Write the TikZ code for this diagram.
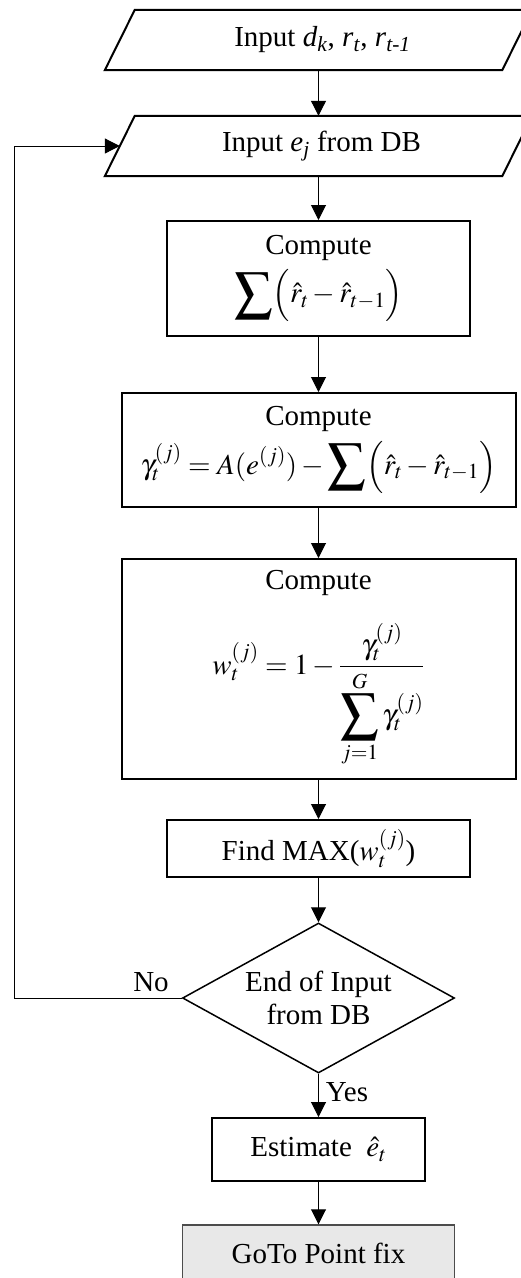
\documentclass[tikz,border=0pt]{standalone}
\usepackage{amsmath}
\usepackage{mathptmx}
\usepackage{graphicx}
\usepackage[no-math]{fontspec}
\setmainfont{Liberation Serif}
\usepackage{tikz}
\usetikzlibrary{shapes.geometric,arrows.meta}

\newcommand{\bsum}{\mathop{\vcenter{\hbox{\scalebox{1.3}{$\displaystyle\sum$}}}}}

\begin{document}
\begin{tikzpicture}[x=1pt,y=-1pt,
    font=\fontsize{29}{33}\selectfont,
    iobox/.style={rectangle,minimum width=397pt,minimum height=60pt,inner sep=0pt},
    procbox/.style={rectangle,draw,line width=2pt,align=center,inner sep=0pt},
    decbox/.style={diamond,draw,line width=1.5pt,align=center,inner sep=0pt,aspect=1.8,minimum width=272pt,minimum height=150pt},
    flow/.style={line width=1pt,-{Triangle[width=15pt,length=15pt]}}]
    \useasboundingbox (0,0) rectangle (520,1278);
    \node [iobox] (in1) at (318.5,40) {\hspace*{8pt}Input \textit{d}\textsubscript{\textit{k}}, \textit{r}\textsubscript{\textit{t}}, \textit{r}\textsubscript{\textit{t-1}}};
    \node [iobox] (in2) at (318.5,146) {\hspace*{6pt}Input \textit{e}\textsubscript{\textit{j}} from DB};
    \foreach \io in {in1,in2}
        \draw[line width=2pt,line join=miter] ([xshift=-15pt]\io.south west) -- ([xshift=15pt]\io.north west) -- ([xshift=15pt]\io.north east) -- ([xshift=-15pt]\io.south east) -- cycle;
    \node [procbox,minimum width=303pt,minimum height=115pt] (sumdiff) at (318.5,278.5) {Compute\\[8pt] $\displaystyle\bsum\Bigl(\hat{r}_t-\hat{r}_{t-1}\Bigr)$};
    \node [procbox,minimum width=394pt,minimum height=114pt] (gam) at (318.5,450) {Compute\\[8pt] $\displaystyle\gamma_t^{(j)}=A(e^{(j)})-\bsum\Bigl(\hat{r}_t-\hat{r}_{t-1}\Bigr)$};
    \node [procbox,minimum width=394pt,minimum height=220pt] (wgt) at (318.5,669) {Compute\\[26pt] $\displaystyle w_t^{(j)}=1-\frac{\gamma_t^{(j)}}{\displaystyle\bsum_{j=1}^{G}\gamma_t^{(j)}}$};
    \node [procbox,minimum width=303pt,minimum height=57pt] (fmax) at (318.5,848.5) {Find MAX($w_t^{(j)}$)};
    \node [decbox] (endq) at (318.5,998) {End of Input\\from DB};
    \node [procbox,minimum width=213pt,minimum height=63pt] (est) at (318.5,1149.5) {Estimate~~$\hat{e}_t$};
    \node [procbox,line width=1.5pt,draw=black!70,fill=gray!18,minimum width=272pt,minimum height=56pt] (gofix) at (318.5,1253) {GoTo Point fix};
    \coordinate (back) at (14,998);
    \draw[flow] (in1) -- (in2);
    \draw[flow] (in2) -- (sumdiff);
    \draw[flow] (sumdiff) -- (gam);
    \draw[flow] (gam) -- (wgt);
    \draw[flow] (wgt) -- (fmax);
    \draw[flow] (fmax) -- (endq);
    \draw[flow] (endq) -- (est);
    \draw[flow] (est) -- (gofix);
    \draw[flow] (endq) -- (back) |- (in2);
    \node (lblno) at (151,982) {No};
    \node (lblyes) at (347,1092) {Yes};
\end{tikzpicture}
\end{document}
